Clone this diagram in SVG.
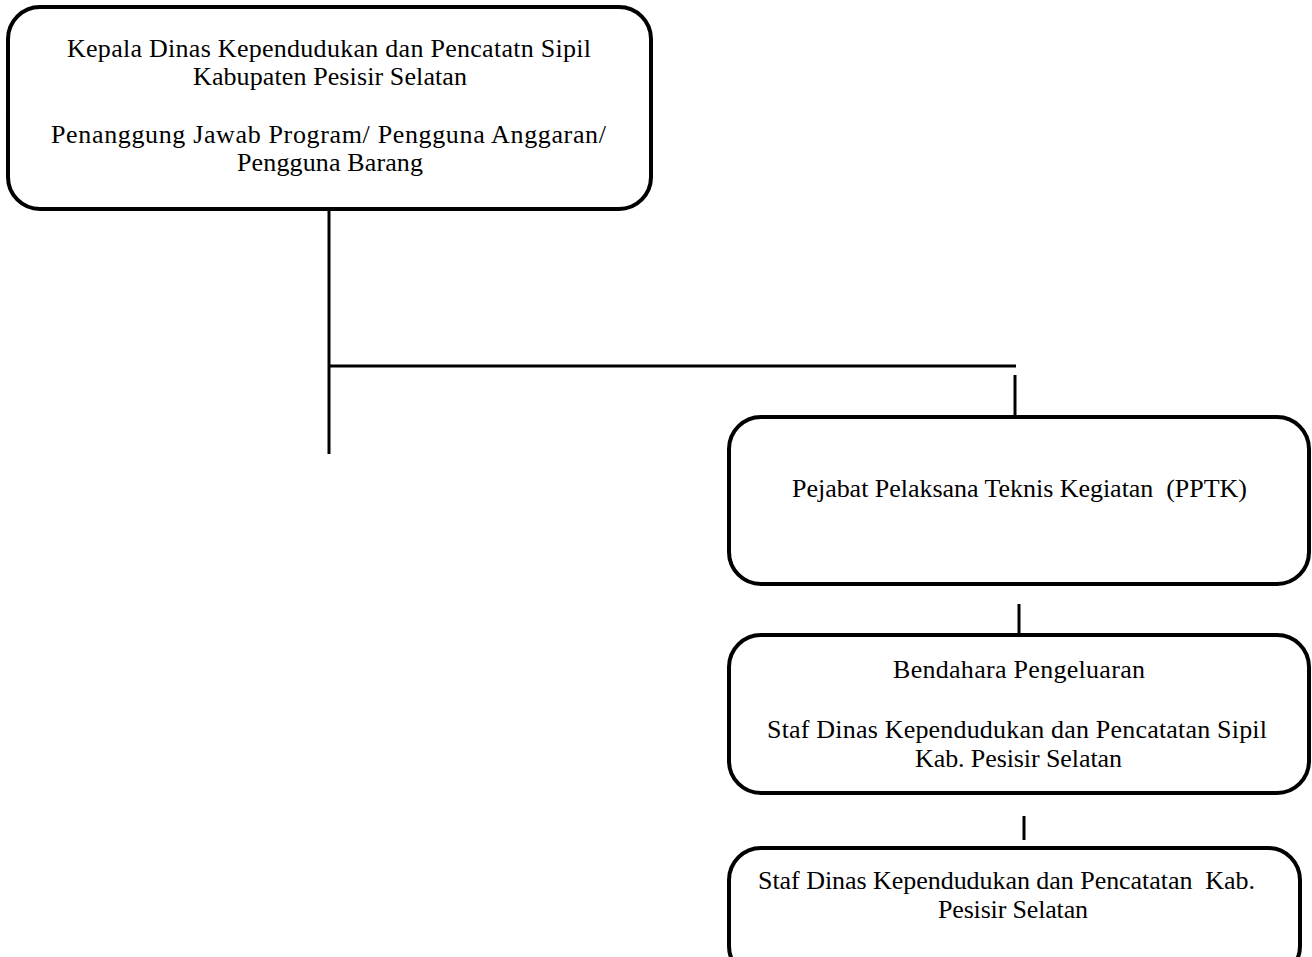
<svg xmlns="http://www.w3.org/2000/svg" width="1312" height="957" viewBox="0 0 1312 957">
<style>
.box{fill:#fff;stroke:#000;stroke-width:4}
.ln{stroke:#000;stroke-width:3;fill:none}
text{font-family:"Liberation Serif","Times New Roman",serif;font-size:26px;fill:#000;text-anchor:middle}
</style>
<rect width="1312" height="957" fill="#fff"/>
<g id="connectors">
<line class="ln" x1="329" y1="209" x2="329" y2="454"/>
<line class="ln" x1="329" y1="366" x2="1016" y2="366"/>
<line class="ln" x1="1015" y1="375" x2="1015" y2="417"/>
<line class="ln" x1="1019" y1="604" x2="1019" y2="635"/>
<line class="ln" x1="1024" y1="816" x2="1024" y2="840"/>
</g>
<g id="kepala">
<rect class="box" x="8" y="7" width="643" height="202" rx="32"/>
<text x="329" y="57" textLength="524">Kepala Dinas Kependudukan dan Pencatatn Sipil</text>
<text x="330" y="85" textLength="274">Kabupaten Pesisir Selatan</text>
<text x="328.5" y="143" textLength="555">Penanggung Jawab Program/ Pengguna Anggaran/</text>
<text x="330" y="171" textLength="186">Pengguna Barang</text>
</g>
<g id="pptk">
<rect class="box" x="729" y="417" width="580" height="167" rx="32"/>
<text x="1019.5" y="497" textLength="455" xml:space="preserve">Pejabat Pelaksana Teknis Kegiatan  (PPTK)</text>
</g>
<g id="bendahara">
<rect class="box" x="729" y="635" width="580" height="158" rx="32"/>
<text x="1019" y="678" textLength="252">Bendahara Pengeluaran</text>
<text x="1017" y="738" textLength="500">Staf Dinas Kependudukan dan Pencatatan Sipil</text>
<text x="1018.5" y="767" textLength="207">Kab. Pesisir Selatan</text>
</g>
<g id="staf">
<rect class="box" x="729" y="848" width="571" height="130" rx="32"/>
<text x="1006.5" y="889" textLength="497" xml:space="preserve">Staf Dinas Kependudukan dan Pencatatan  Kab.</text>
<text x="1013" y="918" textLength="150">Pesisir Selatan</text>
</g>
</svg>
